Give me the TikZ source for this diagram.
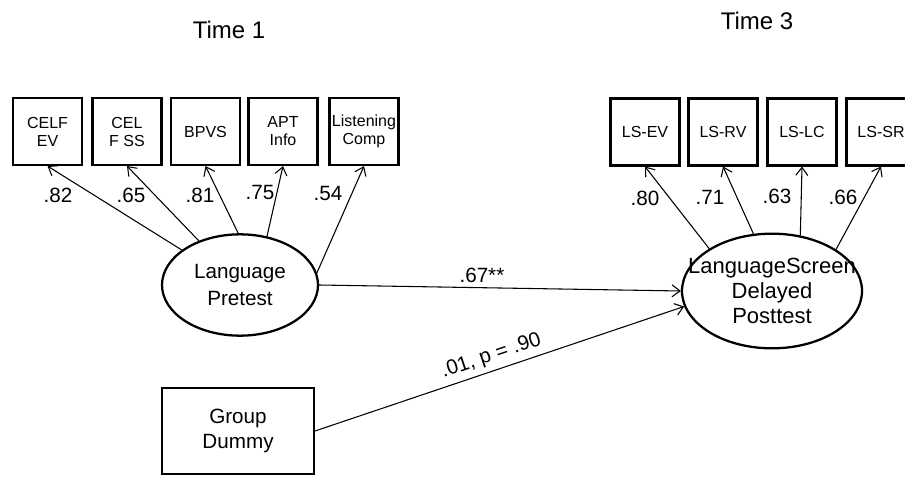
\documentclass[tikz,border=0pt]{standalone}
\usepackage{fontspec}
\setmainfont{Liberation Sans}
\usetikzlibrary{arrows.meta,shapes.geometric}

\tikzset{
  indbox/.style={draw, line width=1.8pt, minimum width=52pt, minimum height=50pt,
    inner sep=0pt, align=center, font=\fontsize{12}{13.5}\selectfont},
  latent/.style={draw, ellipse, line width=1.7pt, inner sep=0pt, align=center},
  load/.style={font=\fontsize{15.5}{18}\selectfont},
  path/.style={->, line width=0.8pt}
}

\begin{document}
\begin{tikzpicture}[x=0.75pt, y=-0.75pt, >={Straight Barb[length=6pt,width=9pt]}]
      \useasboundingbox (0,0) rectangle (905,477);

      % --- time headings ---
      \node[font=\fontsize{18}{20}\selectfont] (t1) at (229, 30) {Time 1};
      \node[font=\fontsize{18}{20}\selectfont] (t3) at (757, 21) {Time 3};

      % --- Time 1 indicators ---
      \node[indbox] (celfev) at (47.5, 131.5) {CELF\\EV};
      \node[indbox] (celfss) at (127, 131.5) {CEL\\F SS};
      \node[indbox] (bpvs)   at (205.5, 131.5) {BPVS};
      \node[indbox] (apt)    at (283, 131.5) {APT\\Info};
      \node[indbox] (lcomp)  at (364, 131.5) {Listening\\Comp};

      % --- Time 3 indicators (last box runs off the right edge) ---
      \node[indbox] (lsev) at (645, 132) {LS-EV};
      \node[indbox] (lsrv) at (723, 132) {LS-RV};
      \node[indbox] (lslc) at (802, 132) {LS-LC};
      \node[indbox] (lssr) at (881, 132) {LS-SR};

      % --- latent variables (text of ls is wider than its ellipse) ---
      \node[latent, minimum width=117pt, minimum height=76pt,
            font=\fontsize{15.5}{20}\selectfont] (lp) at (240, 285) {Language\\Pretest};
      \node[latent, inner xsep=-20pt, minimum width=135pt, minimum height=86pt,
            font=\fontsize{16.5}{18.75}\selectfont] (ls) at (772, 291) {LanguageScreen\\Delayed\\Posttest};

      % --- observed predictor ---
      \node[draw, line width=1.5pt, minimum width=114pt, minimum height=65pt,
            align=center, font=\fontsize{15.5}{19}\selectfont] (gd) at (238, 431) {Group\\Dummy};

      % --- loadings, Time 1 ---
      \draw[path] (lp.149) -- (celfev.south);
      \draw[path] (lp.133) -- (celfss.south);
      \draw[path] (lp.92)  -- (bpvs.south);
      \draw[path] (lp.61)  -- (apt.south);
      \draw[path] (lp.9)   -- (lcomp.south);
      \node[load] at (58, 195)  {.82};
      \node[load] at (131, 195) {.65};
      \node[load] at (200, 195) {.81};
      \node[load] at (260, 192) {.75};
      \node[load] at (328, 193) {.54};

      % --- loadings, Time 3 ---
      \draw[path] (ls.146) -- (lsev.south);
      \draw[path] (ls.108) -- (lsrv.south);
      \draw[path] (ls.63)  -- (lslc.south);
      \draw[path] (ls.33)  -- (lssr.south);
      \node[load] at (645, 198) {.80};
      \node[load] at (710, 197) {.71};
      \node[load] at (777, 196) {.63};
      \node[load] at (843, 197) {.66};

      % --- structural paths ---
      \draw[path] (lp.east) -- node[load, above, pos=0.45] {.67**} (ls.west);
      \draw[path] (gd.east) -- node[load, above, sloped, pos=0.49] {.01, p = .90} (ls.190);
    \end{tikzpicture}
\end{document}
